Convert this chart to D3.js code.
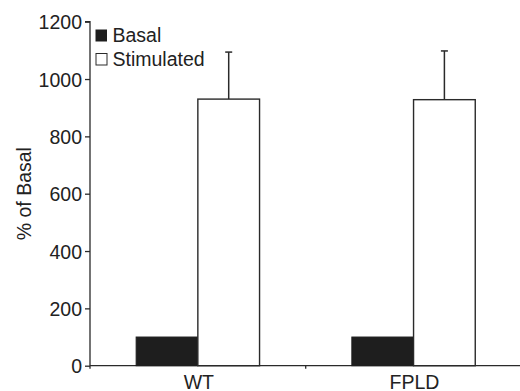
<!DOCTYPE html>
<html><head><meta charset="utf-8">
<script src="https://cdn.jsdelivr.net/npm/d3@7"></script>
<style>body{margin:0;background:#fff}svg{display:block}text{font-family:"Liberation Sans",Arial,Helvetica,sans-serif;fill:#222}</style>
</head><body>
<script>
const categories = ["WT", "FPLD"];
const seriesNames = ["Basal", "Stimulated"];
const basalValues = [100, 100];
const stimulatedValues = [930, 928];
const stimulatedErrors = [164, 170];
const yTicks = [0, 200, 400, 600, 800, 1000, 1200];

const W = 520, H = 391;
const svg = d3.select("body").append("svg").attr("width", W).attr("height", H);
const x0 = d3.scaleBand().domain(categories).range([90, 521.4]).padding(0);
const x1 = d3.scaleBand().domain(seriesNames).range([0, x0.bandwidth()]).paddingInner(0).paddingOuter(0.748);
const y = d3.scaleLinear().domain([0, 1200]).range([365.7, 21.7]);
const fs = "19.5px";
const ink = "#2a2a2a";

// y axis
const yAxis = svg.append("g").attr("transform", "translate(90,0)")
  .call(d3.axisLeft(y).tickValues(yTicks).tickSize(5).tickPadding(3).tickFormat(d3.format("d")));
yAxis.select(".domain").attr("stroke", ink).attr("stroke-width", 1.3).attr("d", `M-5,${y(1200)}H0V${y(0)+3}`);
yAxis.selectAll(".tick line").attr("stroke", ink).attr("stroke-width", 1.3);
yAxis.selectAll("text").style("font-size", fs).attr("fill", "#222").attr("dy", "0.36em");

// x axis
const xAxis = svg.append("g").attr("transform", `translate(0,${y(0)})`);
xAxis.append("line").attr("x1", 90).attr("x2", 521.4).attr("stroke", ink).attr("stroke-width", 1.3);
xAxis.selectAll(".xt").data(categories.slice(1).concat(["end"])).enter().append("line")
  .attr("x1", (d,i) => i < categories.length - 1 ? x0(d) : x0.range()[1])
  .attr("x2", (d,i) => i < categories.length - 1 ? x0(d) : x0.range()[1])
  .attr("y1", 0).attr("y2", 3).attr("stroke", ink).attr("stroke-width", 1.3);
xAxis.selectAll(".xl").data(categories).enter().append("text")
  .attr("x", d => x0(d) + x0.bandwidth()/2 + 1).attr("y", 23.5)
  .attr("text-anchor", "middle").style("font-size", fs).text(d => d);

// bars
const groups = svg.selectAll(".grp").data(categories).enter().append("g")
  .attr("transform", d => `translate(${x0(d)},0)`);
groups.append("rect")
  .attr("x", x1("Basal")).attr("width", x1.bandwidth())
  .attr("y", (d,i) => y(basalValues[i])).attr("height", (d,i) => y(0) - y(basalValues[i]))
  .attr("fill", "#1e1e1e").attr("stroke", "#1e1e1e").attr("stroke-width", 1);
groups.append("line")
  .attr("x1", x1("Stimulated") + x1.bandwidth()/2).attr("x2", x1("Stimulated") + x1.bandwidth()/2)
  .attr("y1", (d,i) => y(stimulatedValues[i])).attr("y2", (d,i) => y(stimulatedValues[i] + stimulatedErrors[i]))
  .attr("stroke", ink).attr("stroke-width", 1.5);
groups.append("line")
  .attr("x1", x1("Stimulated") + x1.bandwidth()/2 - 3.5).attr("x2", x1("Stimulated") + x1.bandwidth()/2 + 3.5)
  .attr("y1", (d,i) => y(stimulatedValues[i] + stimulatedErrors[i])).attr("y2", (d,i) => y(stimulatedValues[i] + stimulatedErrors[i]))
  .attr("stroke", ink).attr("stroke-width", 1.5);
groups.append("rect")
  .attr("x", x1("Stimulated")).attr("width", x1.bandwidth())
  .attr("y", (d,i) => y(stimulatedValues[i])).attr("height", (d,i) => y(0) - y(stimulatedValues[i]))
  .attr("fill", "#fff").attr("stroke", ink).attr("stroke-width", 1.4);

// y label
svg.append("text").attr("transform", `translate(31,${(y(0)+y(1200))/2}) rotate(-90)`)
  .attr("text-anchor", "middle").style("font-size", fs).text("% of Basal");

// legend
const leg = svg.append("g");
seriesNames.forEach((s, i) => {
  const yy = 29.5 + i * 24;
  leg.append("rect").attr("x", i ? 96 : 95.5).attr("y", yy).attr("width", i ? 11 : 11.5).attr("height", i ? 11.5 : 12)
    .attr("fill", i ? "#fff" : "#1e1e1e").attr("stroke", i ? ink : "none").attr("stroke-width", 1);
  leg.append("text").attr("x", 112.5).attr("y", yy + 12.7).style("font-size", fs).text(s);
});
</script>
</body></html>
